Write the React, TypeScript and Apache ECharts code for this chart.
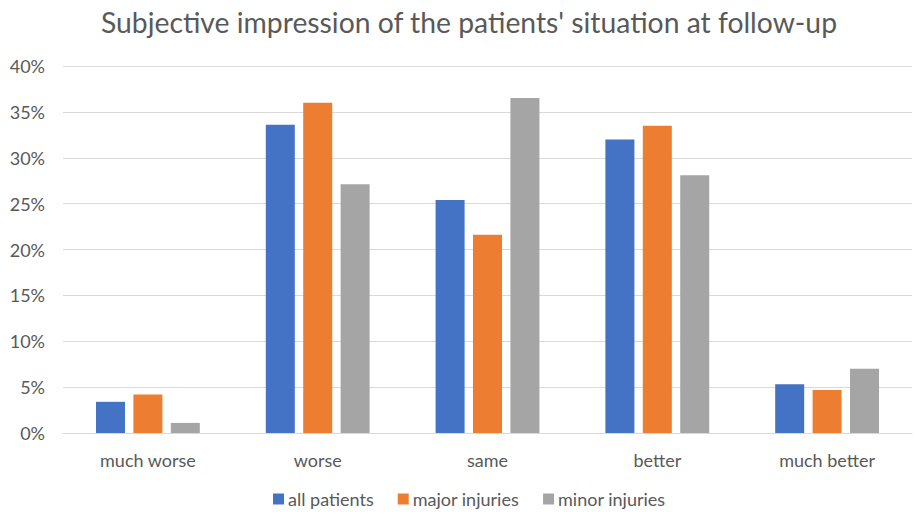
import React, { useEffect, useRef } from "react";
import * as echarts from "echarts";

const categories = ["much worse", "worse", "same", "better", "much better"];
const allPatients = [3.4, 33.6, 25.4, 32.0, 5.3];
const majorInjuries = [4.2, 36.0, 21.6, 33.5, 4.7];
const minorInjuries = [1.1, 27.1, 36.5, 28.1, 7.0];
const yTicks = [0, 5, 10, 15, 20, 25, 30, 35, 40];

const FONT = "Lato, 'Open Sans', sans-serif";

export default function App() {
  const ref = useRef<HTMLDivElement>(null);
  useEffect(() => {
    if (!ref.current) return;
    const chart = echarts.init(ref.current, null, { renderer: "svg" });
    const mk = (name: string, data: number[], color: string) => ({
      name,
      type: "bar",
      data,
      barWidth: 29,
      barGap: "29%",
      itemStyle: { color },
    });
    chart.setOption({
      animation: false,
      backgroundColor: "#ffffff",
      title: {
        text: "Subjective impression of the patients' situation at follow-up",
        left: 464,
        textAlign: "center",
        top: 3,
        textStyle: { fontFamily: FONT, fontSize: 28.3, fontWeight: "normal", color: "#595959" },
      },
      legend: {
        top: 485,
        left: 268,
        itemWidth: 11,
        itemHeight: 11,
        itemGap: 24,
        icon: "rect",
        textStyle: { fontFamily: FONT, fontSize: 18, color: "#595959", padding: [0, 0, 0, -1] },
        data: ["all patients", "major injuries", "minor injuries"],
      },
      grid: { left: 63, right: 5, top: 66, bottom: 82 },
      xAxis: {
        type: "category",
        data: categories,
        axisLine: { lineStyle: { color: "#d9d9d9" } },
        axisTick: { show: false },
        axisLabel: { fontFamily: FONT, fontSize: 18, color: "#595959", margin: 18 },
      },
      yAxis: {
        type: "value",
        min: yTicks[0],
        max: yTicks[yTicks.length - 1],
        interval: 5,
        axisLine: { show: false },
        axisTick: { show: false },
        splitLine: { lineStyle: { color: "#d9d9d9", width: 1 } },
        axisLabel: {
          fontFamily: FONT,
          fontSize: 18,
          color: "#595959",
          margin: 18,
          formatter: (v: number) => `${v}%`,
        },
      },
      series: [
        mk("all patients", allPatients, "#4472c4"),
        mk("major injuries", majorInjuries, "#ed7d31"),
        mk("minor injuries", minorInjuries, "#a5a5a5"),
      ],
    });
    return () => chart.dispose();
  }, []);
  return (
    <div
      ref={ref}
      style={{ position: "fixed", left: 0, top: 0, width: 917, height: 515 }}
    />
  );
}
